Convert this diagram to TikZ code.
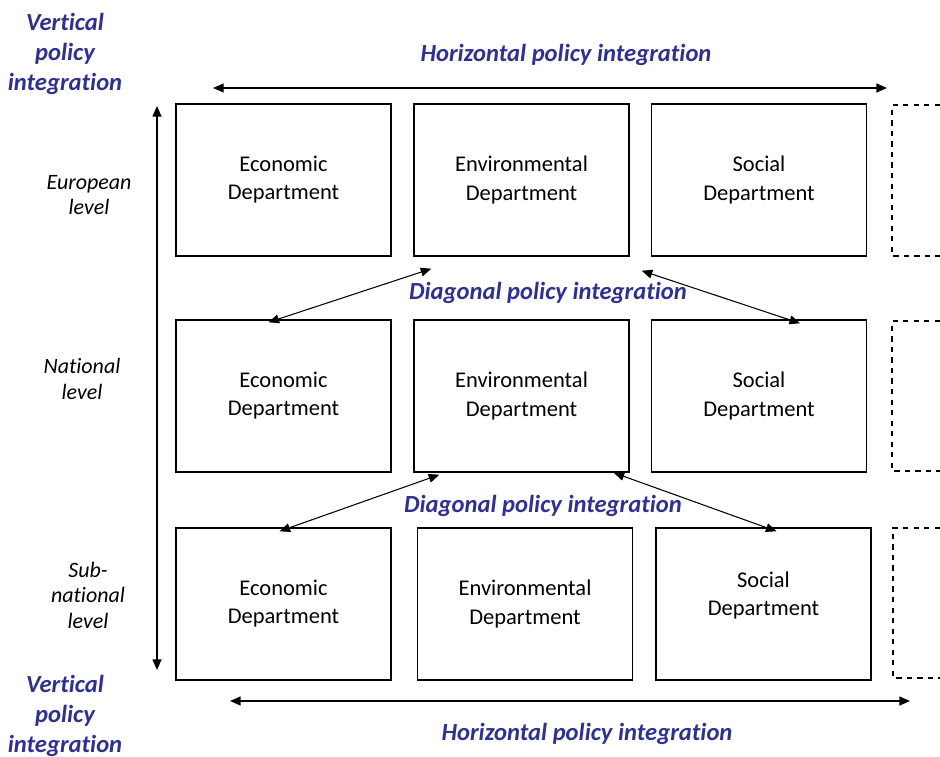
\documentclass[tikz,border=0pt]{standalone}
\usepackage{fontspec}
\setmainfont{Carlito}[Ligatures=NoCommon]
\usetikzlibrary{arrows.meta,positioning,calc}
\definecolor{polblue}{RGB}{46,49,146}
\begin{document}
\begin{tikzpicture}[x=0.02cm,y=-0.02cm,>={Triangle[length=6pt,width=5pt]},font=\fontsize{12.8}{16}\selectfont]
\tikzstyle{dept}=[draw,line width=0.85pt,minimum width=4.3cm,minimum height=3.04cm,align=center,inner sep=0pt]
\tikzstyle{pol}=[text=polblue,font=\fontsize{14}{17}\selectfont\bfseries\itshape,align=center]
\tikzstyle{lvl}=[font=\fontsize{12.5}{14.5}\selectfont\itshape,align=center]
\tikzstyle{more}=[dashed,line width=0.8pt]
\useasboundingbox (0,0) rectangle (940,757);
% departments, one row per level
\node[dept] (eco1) at (283.5,180) {Economic\\ Department}; \node[dept] (env1) at (521.5,180) {Environmental\\ Department}; \node[dept] (soc1) at (759,180) {Social\\ Department};
\node[dept] (eco2) at (283.5,396) {Economic\\ Department}; \node[dept] (env2) at (521.5,396) {Environmental\\ Department}; \node[dept] (soc2) at (759,396) {Social\\ Department};
\node[dept] (eco3) at (283.5,604) {Economic\\ Department}; \node[dept] (env3) at (525,604) {Environmental\\ Department}; \node[dept] (soc3) at (763.5,604) {Social\\ Department\\[-4pt]};
\draw[more] (940,105) -| (892,256) -- (940,256);
\draw[more] (940,321) -| (892,471) -- (940,471);
\draw[more] (940,528) -| (893,678) -- (940,678);
% levels
\node[lvl] (eur) at (89,195) {European\\ level};
\node[lvl] (nat) at (82,379) {National\\ level};
\node[lvl] (sub) at (88,595) {Sub-\\ national\\ level};
% integration labels
\node[pol] (vtxt) at (65,54) {Vertical\\ policy\\ integration};
\node[pol] (vbtxt) at (65,716) {Vertical\\ policy\\ integration};
\node[pol] (htxt) at (566,55) {Horizontal policy integration};
\node[pol] (hbtxt) at (587,734) {Horizontal policy integration};
\node[pol] (dtxt1) at (548,293) {Diagonal policy integration};
\node[pol] (dtxt2) at (543,506) {Diagonal policy integration};
\coordinate (vtop) at (157,106); \coordinate (vbot) at (157,670);
\coordinate (hl) at (213,88); \coordinate (hr) at (887,88);
\coordinate (hbl) at (230,701); \coordinate (hbr) at (910,701);
\draw[<->,line width=0.9pt] (vtop) -- (vbot);
\draw[<->,line width=0.9pt] (hl) -- (hr);
\draw[<->,line width=0.9pt] (hbl) -- (hbr);
\draw[<->,line width=0.6pt] ([shift={(18,12)}]env1.south west) -- ([shift={(-15,3)}]eco2.north);
\draw[<->,line width=0.6pt] ([shift={(12,14)}]env1.south east) -- ([shift={(41,4)}]soc2.north);
\draw[<->,line width=0.6pt] ([shift={(26,2)}]env2.south west) -- ([shift={(-4,4)}]eco3.north);
\draw[<->,line width=0.6pt] ([shift={(-16,0)}]env2.south east) -- ([shift={(13,4)}]soc3.north);
\end{tikzpicture}
\end{document}
